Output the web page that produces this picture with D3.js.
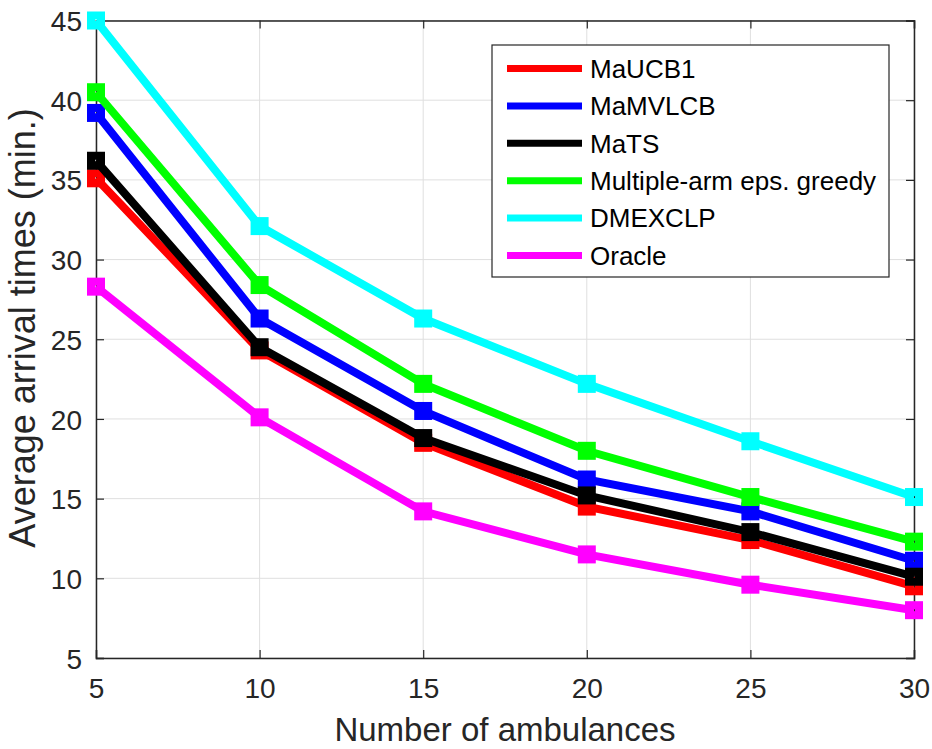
<!DOCTYPE html>
<html>
<head>
<meta charset="utf-8">
<script src="https://cdn.jsdelivr.net/npm/d3@7"></script>
<style>
  body { margin: 0; background: #fff; }
  svg { display: block; font-family: "Liberation Sans", Arial, Helvetica, sans-serif; }
</style>
</head>
<body>
<div id="chart"></div>
<script>
// data
const ambulances = [5, 10, 15, 20, 25, 30]
const seriesNames = ['MaUCB1', 'MaMVLCB', 'MaTS', 'Multiple-arm eps. greedy', 'DMEXCLP', 'Oracle']
const seriesColors = ['#ff0000', '#0000ff', '#000000', '#00ff00', '#00ffff', '#ff00ff']
const maucb1 = [35.1, 24.3, 18.5, 14.5, 12.4, 9.5]
const mamvlcb = [39.2, 26.3, 20.5, 16.2, 14.2, 11.1]
const mats = [36.2, 24.5, 18.8, 15.2, 12.9, 10.1]
const epsGreedy = [40.5, 28.4, 22.2, 18.0, 15.1, 12.3]
const dmexclp = [45.0, 32.1, 26.3, 22.2, 18.6, 15.1]
const oracle = [28.3, 20.1, 14.2, 11.5, 9.6, 8.0]
const xTicks = [5, 10, 15, 20, 25, 30]
const yTicks = [5, 10, 15, 20, 25, 30, 35, 40, 45]

const allSeries = [maucb1, mamvlcb, mats, epsGreedy, dmexclp, oracle]

const W = 932, H = 749
const m = { left: 96, right: 18, top: 20.5, bottom: 91 }

const svg = d3.select('#chart').append('svg')
  .attr('width', W)
  .attr('height', H)

const x = d3.scaleLinear().domain([5, 30]).range([m.left, W - m.right])
const y = d3.scaleLinear().domain([5, 45]).range([H - m.bottom, m.top])

// grid
const grid = svg.append('g').attr('class', 'grid')
grid.selectAll('line.gx')
  .data(xTicks)
  .enter().append('line')
  .attr('x1', d => x(d)).attr('x2', d => x(d))
  .attr('y1', y(5)).attr('y2', y(45))
  .attr('stroke', '#dfdfdf').attr('stroke-width', 1)
grid.selectAll('line.gy')
  .data(yTicks)
  .enter().append('line')
  .attr('y1', d => y(d)).attr('y2', d => y(d))
  .attr('x1', x(5)).attr('x2', x(30))
  .attr('stroke', '#dfdfdf').attr('stroke-width', 1)

// axes (matlab style box, ticks inward)
const axCol = '#262626'
const xAxis = svg.append('g')
  .attr('transform', 'translate(0,' + y(5) + ')')
  .call(d3.axisBottom(x).tickValues(xTicks).tickSize(-8).tickPadding(20))
const xAxisTop = svg.append('g')
  .attr('transform', 'translate(0,' + y(45) + ')')
  .call(d3.axisTop(x).tickValues(xTicks).tickSize(-8).tickFormat(''))
const yAxis = svg.append('g')
  .attr('transform', 'translate(' + x(5) + ',0)')
  .call(d3.axisLeft(y).tickValues(yTicks).tickSize(-8).tickPadding(14))
const yAxisRight = svg.append('g')
  .attr('transform', 'translate(' + x(30) + ',0)')
  .call(d3.axisRight(y).tickValues(yTicks).tickSize(-8).tickFormat(''))

;[xAxis, xAxisTop, yAxis, yAxisRight].forEach(a => {
  a.select('.domain').attr('stroke', axCol).attr('stroke-width', 1.5)
  a.selectAll('.tick line').attr('stroke', axCol).attr('stroke-width', 1.2)
  a.selectAll('.tick text')
    .attr('fill', axCol)
    .style('font-size', '28px')
    .style('font-family', '"Liberation Sans", Arial, sans-serif')
})
yAxis.selectAll('.tick text').attr('dy', '0.36em')
xAxis.selectAll('.tick text').attr('dy', '0.7em')

// axis labels
svg.append('text')
  .attr('x', (x(5) + x(30)) / 2)
  .attr('y', 741)
  .attr('text-anchor', 'middle')
  .attr('fill', axCol)
  .style('font-size', '33px')
  .text('Number of ambulances')

svg.append('text')
  .attr('transform', 'translate(35,' + 328 + ') rotate(-90)')
  .attr('text-anchor', 'middle')
  .attr('fill', axCol)
  .style('font-size', '36px')
  .text('Average arrival times (min.)')

// lines + square markers
const line = d3.line()
  .x((d, i) => x(ambulances[i]))
  .y(d => y(d))

const MK = 10
allSeries.forEach((vals, k) => {
  const g = svg.append('g').attr('class', 'series')
  g.append('path')
    .datum(vals)
    .attr('d', line)
    .attr('fill', 'none')
    .attr('stroke', seriesColors[k])
    .attr('stroke-width', 8)
    .attr('stroke-linejoin', 'miter')
  g.selectAll('rect')
    .data(vals)
    .enter().append('rect')
    .attr('x', (d, i) => x(ambulances[i]) - MK / 2)
    .attr('y', d => y(d) - MK / 2)
    .attr('width', MK)
    .attr('height', MK)
    .attr('fill', 'none')
    .attr('stroke', seriesColors[k])
    .attr('stroke-width', 8)
})

// legend
const lg = svg.append('g').attr('transform', 'translate(492,45)')
lg.append('rect')
  .attr('width', 397).attr('height', 232)
  .attr('fill', '#fff')
  .attr('stroke', axCol).attr('stroke-width', 1.2)

const rows = lg.selectAll('g.row')
  .data(seriesNames)
  .enter().append('g')
  .attr('transform', (d, i) => 'translate(0,' + (23.5 + i * 37.4) + ')')
rows.append('line')
  .attr('x1', 15).attr('x2', 90)
  .attr('stroke', (d, i) => seriesColors[i])
  .attr('stroke-width', 7)
rows.append('text')
  .attr('x', 98)
  .attr('dy', '0.36em')
  .attr('fill', '#000')
  .style('font-size', '26px')
  .text(d => d)
</script>
</body>
</html>
